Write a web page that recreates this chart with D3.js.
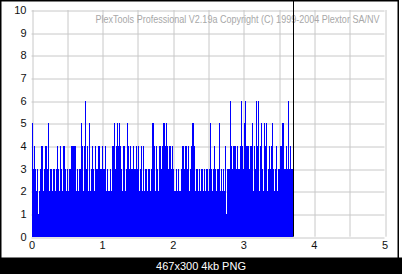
<!DOCTYPE html>
<html>
<head>
<meta charset="utf-8">
<script src="https://cdn.jsdelivr.net/npm/d3@7"></script>
<style>
html,body{margin:0;padding:0;background:#fff;}
svg{display:block;}
</style>
</head>
<body>
<svg id="chart" width="402" height="274"></svg>
<script>
// ---- data ----
const titleText = "PlexTools Professional V2.19a Copyright (C) 1999-2004 Plextor SA/NV";
const captionText = "467x300 4kb PNG";
const xTickLabels = [0, 1, 2, 3, 4, 5];
const xGridValues = [0, 0.5, 1, 1.5, 2, 2.5, 3, 3.5, 4, 4.5, 5];
const yTickLabels = [0, 1, 2, 3, 4, 5, 6, 7, 8, 9, 10];
const markerPosition = 3.71;
const values = [
  5,3,4,3,2,3,1,2,3,4,4,2,3,4,4,3,5,2,3,3,2,3,3,2,3,4,3,2,4,3,2,4,4,3,2,3,2,3,3,4,4,4,4,
  4,2,3,2,3,3,5,4,2,4,6,3,4,2,5,2,3,4,3,2,4,3,3,4,4,3,3,4,3,3,4,2,3,2,2,3,2,4,4,5,3,4,5,4,
  5,4,3,2,4,4,2,3,5,4,3,4,3,3,4,3,3,4,3,4,2,3,4,2,4,2,3,3,2,3,3,2,3,5,5,4,2,4,3,2,4,4,3,4,
  5,5,4,5,4,3,4,4,3,4,3,2,2,3,2,3,2,2,3,4,4,3,4,4,3,4,2,3,4,5,5,4,2,3,3,2,3,2,3,3,2,3,2,3,
  3,2,3,5,3,2,3,4,3,2,3,3,5,2,3,2,3,2,4,1,3,3,3,6,4,3,4,4,4,3,4,3,3,4,6,4,3,5,6,4,4,4,3,4,
  4,5,2,4,3,6,4,6,2,4,5,3,2,5,4,5,2,3,4,3,4,5,3,2,3,4,2,3,3,4,4,5,5,3,3,4,3,6,3,4,3,3
];

// ---- layout ----
const svg = d3.select("#chart");
const x = d3.scaleLinear().domain([0, 5]).range([31.5, 384.5]);
const y = d3.scaleLinear().domain([0, 10]).range([236.7, 10]);
const step = markerPosition / values.length;
const gridColor = "#c8c8c8";
const font = "'Liberation Sans', Arial, sans-serif";

svg.append("rect").attr("x", 0).attr("y", 0).attr("width", 402).attr("height", 274).attr("fill", "#fff");

// grid
const gx = svg.append("g").attr("transform", `translate(0,${y(0)})`)
  .call(d3.axisBottom(x).tickValues(xGridValues).tickSize(-(y(0) - y(10))).tickFormat(""));
gx.select(".domain").remove();
gx.selectAll("line").attr("stroke", gridColor).attr("stroke-width", 1)
  .attr("transform", d => `translate(${Math.round(x(d)) + 0.5 - x(d)},0)`);

const gy = svg.append("g").attr("transform", `translate(${x(0)},0)`)
  .call(d3.axisLeft(y).tickValues(yTickLabels).tickSize(-(x(5) - x(0))).tickFormat(""));
gy.select(".domain").remove();
gy.selectAll("line").attr("stroke", gridColor).attr("stroke-width", 1)
  .attr("transform", d => `translate(0,${Math.round(y(d)) + 0.5 - y(d)})`);

// title
svg.append("text")
  .attr("x", 95.5).attr("y", 23)
  .attr("font-family", font).attr("font-size", 11)
  .attr("fill", "#a8a8a8")
  .attr("textLength", 284).attr("lengthAdjust", "spacingAndGlyphs")
  .text(titleText);

// bars
svg.append("g").attr("shape-rendering", "crispEdges")
  .selectAll("rect").data(values).join("rect")
  .attr("x", (d, i) => x(i * step))
  .attr("width", x(step) - x(0) + 0.05)
  .attr("y", d => y(d))
  .attr("height", d => y(0) - y(d))
  .attr("fill", "#0000ff");

// marker line
svg.append("line")
  .attr("x1", Math.round(x(markerPosition)) + 0.5).attr("x2", Math.round(x(markerPosition)) + 0.5)
  .attr("y1", 1).attr("y2", y(0))
  .attr("stroke", "#000").attr("stroke-width", 1);

// tick labels
const ay = svg.append("g").attr("transform", `translate(${x(0)},0)`)
  .call(d3.axisLeft(y).tickValues(yTickLabels).tickSize(0).tickPadding(5).tickFormat(d3.format("d")));
ay.select(".domain").remove();
ay.selectAll("text").attr("font-family", font).attr("font-size", 11).attr("fill", "#111");

const ax = svg.append("g").attr("transform", `translate(0,${y(0)})`)
  .call(d3.axisBottom(x).tickValues(xTickLabels).tickSize(0).tickPadding(5).tickFormat(d3.format("d")));
ax.select(".domain").remove();
ax.selectAll("text").attr("font-family", font).attr("font-size", 11).attr("fill", "#111");

// outer frame
svg.append("rect").attr("x", 0.75).attr("y", 0.75).attr("width", 397.5).attr("height", 258)
  .attr("fill", "none").attr("stroke", "#000").attr("stroke-width", 1.5);

// caption strip
svg.append("rect").attr("x", 0).attr("y", 257.5).attr("width", 402).attr("height", 16.5).attr("fill", "#000");
svg.append("text").attr("x", 201).attr("y", 270)
  .attr("text-anchor", "middle")
  .attr("font-family", font).attr("font-size", 11).attr("fill", "#fff")
  .text(captionText);
</script>
</body>
</html>
